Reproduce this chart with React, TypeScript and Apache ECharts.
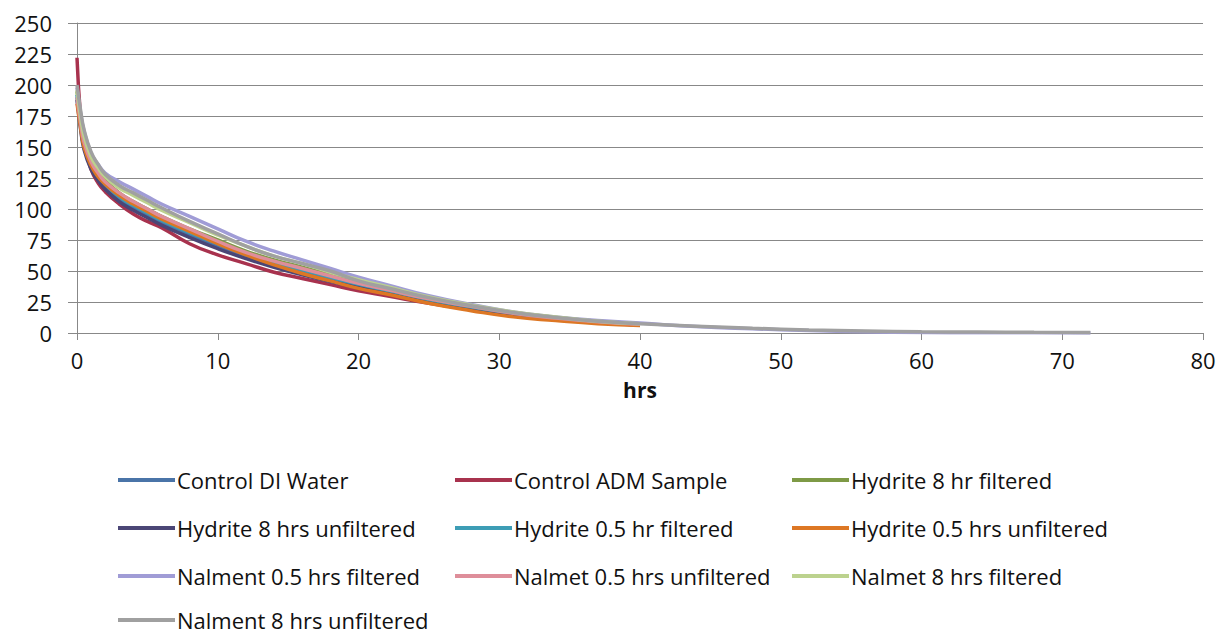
import React, { useEffect, useRef } from "react";
import * as echarts from "echarts";

const timesShort = [0, 0.25, 0.5, 1, 1.5, 2, 3, 4, 5, 6, 8, 10, 12, 14, 16, 18, 20, 22, 25, 28, 31, 34, 37, 40];
const timesLong = [0, 0.25, 0.5, 1, 1.5, 2, 3, 4, 5, 6, 8, 10, 12, 14, 16, 18, 20, 22, 25, 28, 31, 34, 37, 40, 44, 48, 52, 56, 60, 64, 68, 72];

const controlDI = [190, 168, 150, 134, 125, 118, 108, 101, 95, 89, 79, 70, 62, 55, 49, 43, 38, 33, 26, 20.5, 15.5, 12, 9, 7];
const controlADM = [222, 175, 152, 132, 121, 114, 104, 96, 90, 85, 72, 63, 56, 49, 44, 39, 34, 30, 24, 19, 14, 11, 8.5, 6.5];
const hyd8f = [195, 172, 156, 139, 130, 123, 113, 106, 100, 94, 84, 75, 66, 59, 53, 47, 41, 36, 28, 22, 16.5, 12.5, 9.5, 7.5];
const hyd8u = [188, 165, 148, 132, 123, 116, 106, 99, 93, 87, 77, 68, 60, 53, 47, 41.5, 36.5, 32, 25, 19.5, 15, 11.5, 8.5, 6.5];
const hyd05f = [192, 170, 152, 136, 127, 120, 110, 103, 97, 91, 81, 72, 64, 57, 51, 45, 39.5, 34.5, 27, 21, 16, 12, 9, 7];
const hyd05u = [185, 166, 150, 135, 126, 120, 111, 104, 98, 92, 82, 72, 63, 55, 48, 42, 36, 31.5, 24, 18, 13, 10, 7.5, 6];
const nal05f = [198, 178, 163, 145, 136, 129, 122, 116, 110, 104, 94, 84, 74, 66, 59, 52, 45, 39, 30, 23, 17, 13, 10, 8, 5.2, 3.4, 2.0, 1.0, 0.4, 0.2, 0.2, 0.1];
const nal05u = [190, 170, 154, 138, 129, 122, 113, 106, 100, 94, 84, 74, 65, 58, 52, 46, 40, 35, 27.5, 21.5, 16, 12, 9, 7];
const nal8f = [196, 175, 159, 142, 133, 126, 117, 111, 105, 99, 89, 79, 70, 62, 56, 49, 43, 37.5, 29, 22.5, 17, 13, 9.5, 7.5];
const nal8u = [200, 180, 164, 146, 136, 128, 119, 113, 107, 101, 90, 80, 70, 62, 56, 50, 42, 36.5, 28.5, 22, 16.5, 12.5, 9.5, 7.5, 5.5, 3.8, 2.5, 1.6, 1.0, 0.8, 0.6, 0.5];

const seriesNames = [
  "Control DI Water",
  "Control ADM Sample",
  "Hydrite 8 hr filtered",
  "Hydrite 8 hrs unfiltered",
  "Hydrite 0.5 hr filtered",
  "Hydrite 0.5 hrs unfiltered",
  "Nalment 0.5 hrs filtered",
  "Nalmet 0.5 hrs unfiltered",
  "Nalmet 8 hrs filtered",
  "Nalment 8 hrs unfiltered",
];
const seriesValues = [controlDI, controlADM, hyd8f, hyd8u, hyd05f, hyd05u, nal05f, nal05u, nal8f, nal8u];
const seriesTimes = [timesShort, timesShort, timesShort, timesShort, timesShort, timesShort, timesLong, timesShort, timesShort, timesLong];
const colors = ["#4A74A8", "#A8324E", "#7E9A46", "#4B4676", "#3D9DB5", "#DD7724", "#A09CD6", "#DE8E9A", "#BCD28E", "#A0A0A0"];

const FONT = "'Open Sans', sans-serif";

export default function App() {
  const ref = useRef<HTMLDivElement>(null);
  useEffect(() => {
    if (!ref.current) return;
    const chart = echarts.init(ref.current, undefined, { renderer: "svg" });
    const colX = [118, 455, 792];
    const rowY = [479, 527, 575, 619];
    const legends = seriesNames.map((n, i) => ({
      data: [n],
      left: colX[i % 3],
      top: rowY[Math.floor(i / 3)] - 10,
      icon: "rect",
      itemWidth: 57,
      itemHeight: 4,
      itemGap: 0,
      padding: 0,
      textStyle: { fontFamily: FONT, fontSize: 22, lineHeight: 20, color: "#111", padding: [0, 0, 0, -3] },
    }));
    chart.setOption({
      animation: false,
      color: colors,
      textStyle: { fontFamily: FONT },
      grid: { left: 77, right: 16, top: 23, bottom: 303, containLabel: false },
      legend: legends,
      xAxis: {
        type: "value",
        min: 0,
        max: 80,
        interval: 10,
        name: "hrs",
        nameLocation: "middle",
        nameGap: 48,
        nameTextStyle: { fontFamily: FONT, fontSize: 21, fontWeight: "bold", color: "#111", lineHeight: 18 },
        axisLine: { show: true, onZero: false, lineStyle: { color: "#888", width: 1 } },
        axisTick: { show: true, length: 7, inside: false, lineStyle: { color: "#888" } },
        axisLabel: { fontFamily: FONT, fontSize: 22, color: "#111", margin: 18, lineHeight: 18 },
        splitLine: { show: false },
      },
      yAxis: {
        type: "value",
        min: 0,
        max: 250,
        interval: 25,
        axisLine: { show: true, lineStyle: { color: "#888", width: 1 } },
        axisTick: { show: true, length: 9, lineStyle: { color: "#888" } },
        axisLabel: { fontFamily: FONT, fontSize: 22, color: "#111", margin: 25, lineHeight: 20 },
        splitLine: { show: true, lineStyle: { color: "#888", width: 1 } },
      },
      series: seriesNames.map((n, i) => ({
        name: n,
        type: "line",
        smooth: true,
        symbol: "none",
        showSymbol: false,
        lineStyle: { width: 3.5, color: colors[i] },
        itemStyle: { color: colors[i] },
        data: seriesTimes[i].map((t, k) => [t, seriesValues[i][k]]),
      })),
    });
    return () => chart.dispose();
  }, []);
  return <div ref={ref} style={{ position: "absolute", left: 0, top: 0, width: 1219, height: 636 }} />;
}
